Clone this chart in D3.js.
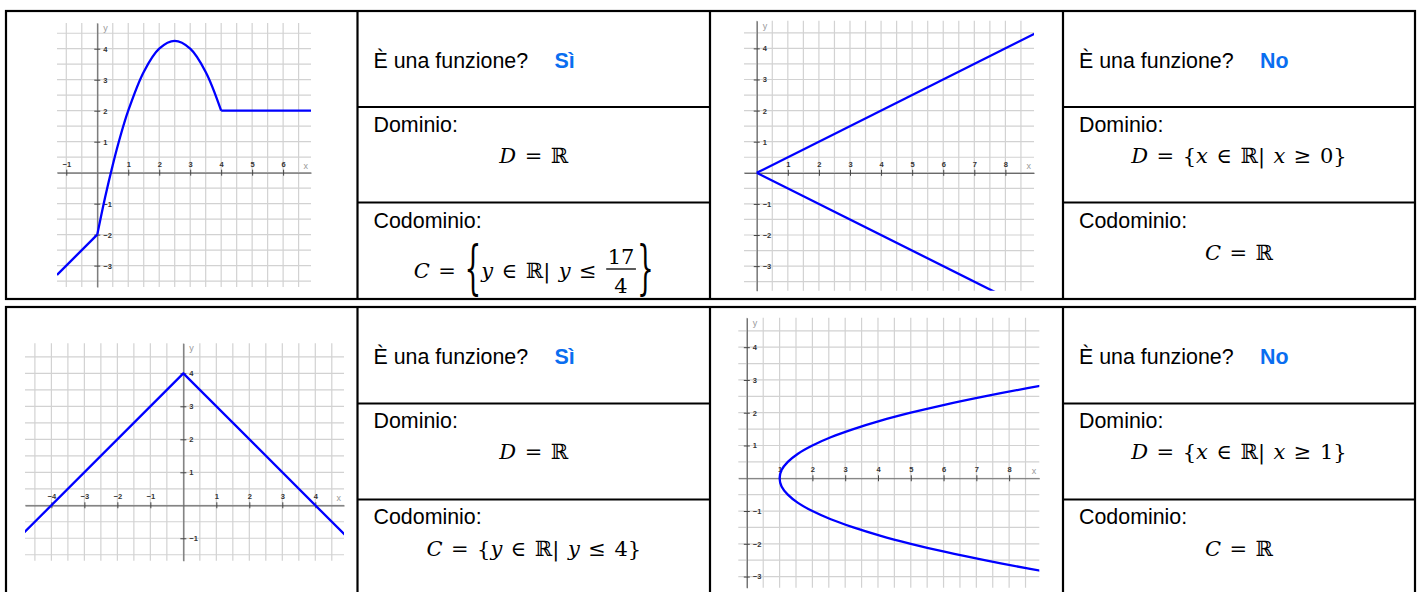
<!DOCTYPE html>
<html>
<head>
<meta charset="utf-8">
<script src="https://cdn.jsdelivr.net/npm/d3@7"></script>
<style>
body { margin: 0; background: #fff; }
svg { display: block; }
</style>
</head>
<body>
<script>
// ---- curves ----
var g1Left  = [[-1.3, -3.3], [0, -2]];
var g1Arc   = [[0, -2], [0.25, -0.81], [0.5, 0.25], [0.75, 1.19], [1, 2], [1.5, 3.25], [2, 4], [2.5, 4.25], [3, 4], [3.5, 3.25], [4, 2]];
var g1Right = [[4, 2], [7, 2]];
var g2Upper = [[0, 0], [9, 4.5]];
var g2Lower = [[0, 0], [9, -4.5]];
var g3Line  = [[-5, -1], [0, 4], [5, -1]];
var g4Curve = [[9, 2.83], [8.56, 2.75], [7.25, 2.5], [6.06, 2.25], [5, 2], [4.06, 1.75], [3.25, 1.5], [2.56, 1.25], [2, 1],
               [1.56, 0.75], [1.25, 0.5], [1.06, 0.25], [1, 0], [1.06, -0.25], [1.25, -0.5], [1.56, -0.75], [2, -1],
               [2.56, -1.25], [3.25, -1.5], [4.06, -1.75], [5, -2], [6.06, -2.25], [7.25, -2.5], [8.56, -2.75], [9, -2.83]];

// visible window of each graph (data units)
var g1XDomain = [-1.3, 6.9],   g1YDomain = [-3.69, 4.83];
var g2XDomain = [-0.41, 8.92], g2YDomain = [-3.79, 4.89];
var g3XDomain = [-4.8, 4.87],  g3YDomain = [-1.68, 4.91];
var g4XDomain = [-0.26, 8.92], g4YDomain = [-3.34, 4.9];

// tick labels
var g1XTicks = [-1, 1, 2, 3, 4, 5, 6],        g1YTicks = [-3, -2, -1, 1, 2, 3, 4];
var g2XTicks = [1, 2, 3, 4, 5, 6, 7, 8],      g2YTicks = [-3, -2, -1, 1, 2, 3, 4];
var g3XTicks = [-4, -3, -2, -1, 1, 2, 3, 4],  g3YTicks = [-1, 1, 2, 3, 4];
var g4XTicks = [1, 2, 3, 4, 5, 6, 7, 8],      g4YTicks = [-3, -2, -1, 1, 2, 3, 4];

// ---- table texts ----
var question = "È una funzione?";
var answers = ["Sì", "No", "Sì", "No"];
var domLabel = "Dominio:";
var codLabel = "Codominio:";
var domains = [
  ["D", "=", "ℝ"],
  ["D", "=", "{", "x", "∈", "ℝ", "|", "x", "≥", "0", "}"],
  ["D", "=", "ℝ"],
  ["D", "=", "{", "x", "∈", "ℝ", "|", "x", "≥", "1", "}"]
];
var codomains = [
  ["C", "=", "{{", "y", "∈", "ℝ", "|", "y", "≤", "17/4", "}}"],
  ["C", "=", "ℝ"],
  ["C", "=", "{", "y", "∈", "ℝ", "|", "y", "≤", "4", "}"],
  ["C", "=", "ℝ"]
];

var W = 1423, H = 592;
var colX = [6, 357.5, 710, 1063, 1415];
var tables = [{top: 11, bottom: 299, rows: [107, 202.5]}, {top: 307, bottom: 600, rows: [403.5, 499.5]}];

var svg = d3.select("body").append("svg")
  .attr("width", W)
  .attr("height", H);

var clipCount = 0;

function drawGraph(box, xDom, yDom, segments, xt, yt) {
  var x = d3.scaleLinear().domain(xDom).range([box[0], box[1]]);
  var y = d3.scaleLinear().domain(yDom).range([box[3], box[2]]);
  var id = "clip" + (clipCount++);
  svg.append("clipPath").attr("id", id)
    .append("rect")
    .attr("x", box[0]).attr("y", box[2])
    .attr("width", box[1] - box[0]).attr("height", box[3] - box[2]);

  var g = svg.append("g");

  // half-unit grid
  var gx = d3.range(Math.ceil(xDom[0] * 2) / 2, xDom[1], 0.5);
  var gy = d3.range(Math.ceil(yDom[0] * 2) / 2, yDom[1], 0.5);
  g.selectAll(".vg").data(gx).enter().append("line")
    .attr("x1", d => x(d)).attr("x2", d => x(d))
    .attr("y1", box[2]).attr("y2", box[3])
    .attr("stroke", "#d2d2d2").attr("stroke-width", 1.2);
  g.selectAll(".hg").data(gy).enter().append("line")
    .attr("x1", box[0]).attr("x2", box[1])
    .attr("y1", d => y(d)).attr("y2", d => y(d))
    .attr("stroke", "#d2d2d2").attr("stroke-width", 1.2);

  // axes through the origin
  var fmt = d3.format("d");
  var xAxis = g.append("g").attr("transform", "translate(0," + y(0) + ")")
    .call(d3.axisTop(x).tickValues(xt).tickFormat(fmt).tickSize(3).tickPadding(3).tickSizeOuter(0));
  var yAxis = g.append("g").attr("transform", "translate(" + x(0) + ",0)")
    .call(d3.axisRight(y).tickValues(yt).tickFormat(fmt).tickSize(3).tickPadding(3).tickSizeOuter(0));
  xAxis.selectAll(".tick line").attr("y1", 3);
  yAxis.selectAll(".tick line").attr("x1", -3);
  [xAxis, yAxis].forEach(function(a) {
    a.select(".domain").attr("stroke", "#6a6a6a").attr("stroke-width", 1.2);
    a.selectAll(".tick line").attr("stroke", "#444");
    a.selectAll(".tick text")
      .attr("font-family", "Liberation Sans, Arial, sans-serif")
      .attr("font-size", 7.5)
      .attr("font-weight", "bold")
      .attr("fill", "#333");
  });

  g.append("text")
    .attr("x", box[1] - 3).attr("y", y(0) - 4)
    .attr("text-anchor", "end")
    .attr("font-family", "Liberation Sans, Arial, sans-serif")
    .attr("font-size", 9).attr("fill", "#999")
    .text("x");
  g.append("text")
    .attr("x", x(0) + 6).attr("y", box[2] + 8)
    .attr("font-family", "Liberation Sans, Arial, sans-serif")
    .attr("font-size", 9).attr("fill", "#999")
    .text("y");

  var cg = g.append("g").attr("clip-path", "url(#" + id + ")");
  segments.forEach(function(s) {
    var line = d3.line()
      .x(d => x(d[0]))
      .y(d => y(d[1]))
      .curve(s.smooth ? d3.curveCatmullRom.alpha(0.5) : d3.curveLinear);
    cg.append("path")
      .datum(s.pts)
      .attr("d", line)
      .attr("fill", "none")
      .attr("stroke", "#0000ff")
      .attr("stroke-width", 2.3)
      .attr("stroke-linejoin", "round");
  });
}

drawGraph([57, 311, 23, 287], g1XDomain, g1YDomain,
  [{pts: g1Left}, {pts: g1Arc, smooth: true}, {pts: g1Right}], g1XTicks, g1YTicks);
drawGraph([744, 1034, 20.7, 290.7], g2XDomain, g2YDomain,
  [{pts: g2Upper}, {pts: g2Lower}], g2XTicks, g2YTicks);
drawGraph([25, 344, 343.3, 560.7], g3XDomain, g3YDomain,
  [{pts: g3Line}], g3XTicks, g3YTicks);
drawGraph([738.3, 1039.3, 317.7, 587.7], g4XDomain, g4YDomain,
  [{pts: g4Curve, smooth: true}], g4XTicks, g4YTicks);

// ---- math formulas ----
var relOps = ["=", "∈", "≤", "≥"];
var mathFont = "DejaVu Serif, Liberation Serif, serif";
var mathSize = 21;
var gap = 8.5;

function drawMath(cx, base, tokens) {
  var grp = svg.append("g");
  var cur = 0;
  tokens.forEach(function(t) {
    var rel = relOps.indexOf(t) >= 0;
    if (rel) cur += gap;
    if (t.indexOf("/") > 0) {
      var parts = t.split("/");
      var num = grp.append("text").attr("y", base - 14).text(parts[0]);
      var den = grp.append("text").attr("y", base + 15).text(parts[1]);
      [num, den].forEach(function(e) {
        e.attr("font-family", mathFont).attr("font-size", mathSize).attr("text-anchor", "middle");
      });
      var w = Math.max(num.node().getComputedTextLength(), den.node().getComputedTextLength()) + 3;
      num.attr("x", cur + w / 2 + 1);
      den.attr("x", cur + w / 2 + 1);
      grp.append("line")
        .attr("x1", cur + 1).attr("x2", cur + w + 1)
        .attr("y1", base - 9).attr("y2", base - 9)
        .attr("stroke", "#000").attr("stroke-width", 1.3);
      cur += w + 2;
      return;
    }
    var big = (t === "{{" || t === "}}");
    var el = grp.append("text")
      .attr("font-family", mathFont)
      .attr("font-size", big ? 44 : mathSize)
      .attr("font-style", /^[A-Za-z]$/.test(t) ? "italic" : "normal")
      .text(big ? t[0] : t);
    var w = el.node().getComputedTextLength();
    if (big) {
      el.attr("transform", "translate(" + cur + "," + (base + 10) + ") scale(0.6,1.3)");
      w = w * 0.6;
    } else {
      el.attr("x", cur).attr("y", base);
    }
    cur += w;
    if (rel || t === "|") cur += gap;
  });
  grp.attr("transform", "translate(" + (cx - cur / 2) + ",0)");
}

// ---- text cells ----
var textCols = [[colX[1], colX[2]], [colX[3], colX[4]]];
var cellIndex = 0;
tables.forEach(function(tb) {
  textCols.forEach(function(c) {
    var i = cellIndex++;
    var x0 = c[0], cx = (c[0] + c[1]) / 2;
    svg.append("text")
      .attr("x", x0 + 16).attr("y", tb.top + 56.5)
      .attr("font-family", "Liberation Sans, Arial, sans-serif")
      .attr("font-size", 21.4)
      .text(question);
    svg.append("text")
      .attr("x", x0 + 197).attr("y", tb.top + 56.5)
      .attr("font-family", "Liberation Sans, Arial, sans-serif")
      .attr("font-size", 21.4)
      .attr("font-weight", "bold")
      .attr("fill", "#0a6ef0")
      .text(answers[i]);
    svg.append("text")
      .attr("x", x0 + 16).attr("y", tb.top + 120.5)
      .attr("font-family", "Liberation Sans, Arial, sans-serif")
      .attr("font-size", 21.4)
      .text(domLabel);
    drawMath(cx, tb.top + 152, domains[i]);
    svg.append("text")
      .attr("x", x0 + 16).attr("y", tb.top + 217)
      .attr("font-family", "Liberation Sans, Arial, sans-serif")
      .attr("font-size", 21.4)
      .text(codLabel);
    var hasFrac = codomains[i].some(t => t.indexOf("/") > 0);
    drawMath(cx, tb.top + (hasFrac ? 267 : 248.5), codomains[i]);
  });
});

// ---- table borders ----
tables.forEach(function(tb) {
  var b = svg.append("g").attr("stroke", "#000").attr("stroke-width", 2.2);
  b.append("rect")
    .attr("x", colX[0]).attr("y", tb.top)
    .attr("width", colX[4] - colX[0]).attr("height", tb.bottom - tb.top)
    .attr("fill", "none");
  colX.slice(1, 4).forEach(function(cx) {
    b.append("line").attr("x1", cx).attr("x2", cx).attr("y1", tb.top).attr("y2", tb.bottom);
  });
  textCols.forEach(function(c) {
    tb.rows.forEach(function(ry) {
      b.append("line").attr("x1", c[0]).attr("x2", c[1]).attr("y1", ry).attr("y2", ry);
    });
  });
});
</script>
</body>
</html>
